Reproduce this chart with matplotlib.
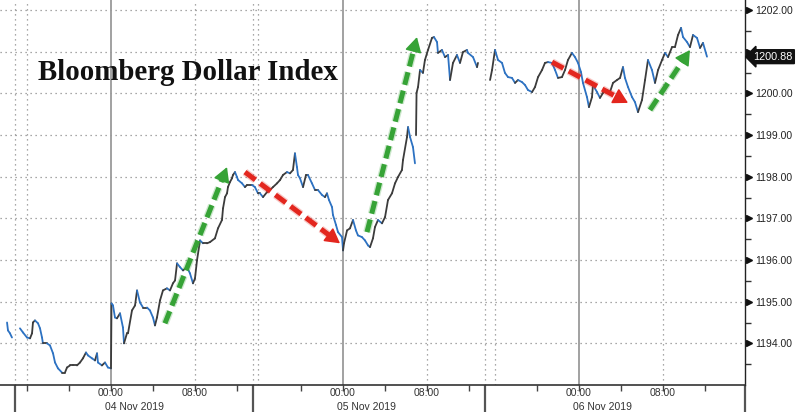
import numpy as np
import matplotlib
matplotlib.use("Agg")
import matplotlib.pyplot as plt
from matplotlib.collections import LineCollection
from matplotlib import transforms
import matplotlib.patheffects as pe

# ---------------- data ----------------
# x = session-compressed hours relative to 04 Nov 2019 00:00 (Bloomberg removes the daily break)
hours = [
    -9.90, -9.81, -9.62, -9.43, np.nan,
    -8.67, -8.38, -8.00, -7.71, -7.52, -7.43, -7.24, -6.95, -6.76, -6.57, -6.48, -6.10, -5.81,
    -5.52, -5.33, -5.05, -4.67, -4.38, -4.19, -3.90, -3.62, -3.24, -2.95, -2.67, -2.38, -2.19,
    -1.81, -1.52, -1.33, -1.24, -0.86, -0.57, -0.29, 0.00, 0.05, 0.19, 0.38, 0.57, 0.86, 1.14,
    1.24, 1.52, 1.62, 2.00, 2.29, 2.48, 2.76, 3.05, 3.43, 3.71, 4.00, 4.19, 4.38, 4.67, 4.95,
    5.33, 5.62, 5.90, 6.10, 6.29, 6.57, 6.86, 7.24, 7.52, 7.81, 8.00, 8.19, 8.48, 8.76, 9.14,
    9.43, 9.90, 10.19, 10.57, 10.67, 10.86, 11.05, 11.14, 11.33, 11.52, 11.62, 11.81, 12.00,
    12.10, 12.48, 12.76, 12.95, 13.43, 13.71, 14.00, 14.19, 14.48, 14.86, 15.14, 15.43, 15.81,
    16.10, 16.38, 16.76, 17.05, 17.33, 17.52, 17.71, 17.81, 18.00, 18.29, 18.57, 18.76, 19.14,
    19.43, 19.71, 20.10, 20.38, 20.57, 20.76, 21.05, 21.14, 21.43, 21.62, 22.00, 22.10, 22.19,
    22.48, 22.76, 23.05, 23.33, 23.52, 23.90, 24.19, 24.48, 24.67, 24.95, 25.14, 25.43, 25.81,
    26.10, 26.38, 26.76, 27.05, 27.33, 27.71, 27.81, 28.19, 28.29, 28.48, 28.76, 28.95, np.nan,
    29.05, 29.10, 29.24, 29.43, 29.71, 29.90, 30.19, 30.57, 30.76, 31.05, 31.14, 31.52, 31.81,
    32.10, 32.29, 32.57, 32.95, 33.24, 33.52, 33.90, 34.00, 34.48, 34.86, 34.95, np.nan,
    36.10, 36.29, 36.57, 36.86, 37.24, 37.52, 37.81, 38.19, 38.48, 38.76, 39.14, 39.43, 39.71,
    40.10, 40.38, 40.67, 41.05, 41.33, 41.62, 42.00, 42.29, 42.57, 42.95, 43.24, 43.52, 43.90,
    44.19, 44.48, 44.76, 44.95, 45.33, 45.52, 45.81, 45.90, 46.29, 46.57, 46.86, 47.24, 47.52,
    47.81, 48.19, 48.48, 48.76, 48.95, 49.24, 49.62, 49.90, 50.19, 50.57, 50.86, 51.14, 51.52,
    51.81, 52.10, 52.48, 52.76, 53.05, 53.43, 53.71, 54.00, 54.29, 54.48, 54.86, 55.14, 55.43,
    55.81, 56.10, 56.38, 56.76,
]
price = [
    1194.50, 1194.31, 1194.24, 1194.14, np.nan,
    1194.36, 1194.26, 1194.14, 1194.12, 1194.24, 1194.50, 1194.55, 1194.48, 1194.36, 1194.14,
    1194.00, 1194.00, 1193.95, 1193.76, 1193.54, 1193.40, 1193.30, 1193.30, 1193.42, 1193.47,
    1193.47, 1193.47, 1193.54, 1193.64, 1193.78, 1193.71, 1193.64, 1193.59, 1193.76, 1193.54,
    1193.47, 1193.54, 1193.42, 1193.40, 1194.96, 1194.91, 1194.62, 1194.60, 1194.72, 1194.38,
    1194.00, 1194.24, 1194.24, 1194.79, 1194.91, 1195.27, 1194.98, 1194.86, 1194.86, 1194.79,
    1194.62, 1194.43, 1194.62, 1195.03, 1195.27, 1195.32, 1195.27, 1195.44, 1195.51, 1195.92,
    1195.83, 1195.75, 1195.83, 1195.68, 1195.44, 1195.56, 1195.99, 1196.47, 1196.40, 1196.40,
    1196.43, 1196.52, 1196.76, 1196.96, 1197.24, 1197.51, 1197.60, 1197.75, 1197.87, 1197.96,
    1198.04, 1198.11, 1197.99, 1197.92, 1197.84, 1197.75, 1197.80, 1197.80, 1197.75, 1197.60,
    1197.60, 1197.51, 1197.63, 1197.68, 1197.75, 1197.84, 1197.92, 1198.04, 1198.11, 1198.08,
    1198.16, 1198.56, 1198.23, 1198.04, 1197.96, 1197.75, 1198.04, 1198.04, 1197.84, 1197.68,
    1197.68, 1197.56, 1197.51, 1197.60, 1197.44, 1197.27, 1197.08, 1196.84, 1196.67, 1196.55,
    1196.23, 1196.40, 1196.71, 1196.76, 1196.96, 1196.71, 1196.59, 1196.55, 1196.47, 1196.35,
    1196.31, 1196.52, 1196.79, 1196.96, 1196.88, 1197.03, 1197.44, 1197.60, 1197.84, 1197.99,
    1198.16, 1198.40, 1198.95, 1199.19, 1198.95, 1198.71, 1198.32, np.nan,
    1199.00, 1200.01, 1200.15, 1200.56, 1200.49, 1200.80, 1201.04, 1201.33, 1201.35, 1201.23,
    1200.97, 1201.04, 1200.87, 1200.92, 1200.32, 1200.73, 1200.92, 1200.73, 1200.99, 1201.04,
    1200.97, 1200.87, 1200.63, 1200.73, np.nan,
    1200.32, 1200.56, 1201.04, 1200.80, 1200.73, 1200.49, 1200.39, 1200.37, 1200.25, 1200.32,
    1200.27, 1200.20, 1200.08, 1200.03, 1200.15, 1200.39, 1200.56, 1200.73, 1200.75, 1200.73,
    1200.56, 1200.37, 1200.39, 1200.56, 1200.80, 1200.97, 1200.87, 1200.73, 1200.51, 1200.25,
    1199.91, 1199.67, 1199.91, 1200.20, 1200.03, 1199.89, 1200.01, 1200.08, 1200.03, 1200.25,
    1200.32, 1200.37, 1200.63, 1200.37, 1200.15, 1199.91, 1199.79, 1199.55, 1199.84, 1200.32,
    1200.80, 1200.56, 1200.25, 1200.56, 1200.80, 1200.97, 1200.87, 1201.11, 1201.11, 1201.40,
    1201.57, 1201.35, 1201.23, 1201.11, 1201.40, 1201.33, 1201.09, 1201.21, 1200.88,
]
last_value = 1200.88

day_starts = [0.0, 22.10, 44.57]
day_labels = ["04 Nov 2019", "05 Nov 2019", "06 Nov 2019"]
eight_am = [8.0, 30.10, 52.57]
minor_hours = [-8.0, -4.0, 4.0, 12.0, 18.10, 26.10, 34.10, 40.57, 48.57, 56.57]
session_breaks = [-9.10, 13.52, 35.62]
afternoon_grid = [-8.0, 14.0, 36.57]
y_ticks = [1194, 1195, 1196, 1197, 1198, 1199, 1200, 1201, 1202]

# trend arrows: (start hour, start price, end hour, end price, colour)
arrows = [
    (5.14, 1194.48, 11.05, 1198.23, "#36a336"),
    (12.76, 1198.11, 21.81, 1196.40, "#e3261e"),
    (24.38, 1196.67, 29.14, 1201.35, "#36a336"),
    (42.00, 1200.75, 49.24, 1199.77, "#e3261e"),
    (51.33, 1199.60, 55.14, 1201.04, "#36a336"),
]

# ---------------- figure ----------------
fig = plt.figure(figsize=(8.0, 4.16), dpi=100)
ax = fig.add_axes([0.0, 31 / 416, 745 / 800, 385 / 416])
ax.set_xlim(-10.57, 60.38)
ax.set_ylim(1193.0, 1202.24)
ax.set_facecolor("white")

for s in ["left", "top"]:
    ax.spines[s].set_visible(False)
ax.spines["right"].set_color("#222222")
ax.spines["right"].set_linewidth(1.0)
ax.spines["bottom"].set_color("#333333")
ax.spines["bottom"].set_linewidth(1.2)

dot = (0, (1, 3))
for yv in y_ticks:
    ax.axhline(yv, color="#8c8c8c", lw=0.9, ls=dot, zorder=0)
for xv in session_breaks + afternoon_grid + eight_am:
    ax.axvline(xv, color="#8c8c8c", lw=0.9, ls=dot, zorder=0)
for xv in day_starts:
    ax.axvline(xv, color="#9a9a9a", lw=1.3, zorder=0.5)

# ---------------- price line (up ticks dark, down ticks blue) ----------------
h = np.asarray(hours, dtype=float)
p = np.asarray(price, dtype=float)
segs, cols = [], []
for i in range(len(h) - 1):
    if np.isfinite(p[i]) and np.isfinite(p[i + 1]):
        segs.append([(h[i], p[i]), (h[i + 1], p[i + 1])])
        cols.append("#3c3c3c" if p[i + 1] >= p[i] else "#2d72c2")
lc = LineCollection(segs, colors=cols, linewidths=1.3, zorder=3, capstyle="round")
ax.add_collection(lc)

# ---------------- x axis ----------------
ax.set_xticks(day_starts + eight_am)
ax.set_xticklabels(["00:00"] * 3 + ["08:00"] * 3)
ax.set_xticks(minor_hours, minor=True)
ax.tick_params(axis="x", which="both", direction="out", length=4, width=1,
               color="#444444", labelsize=7.5, labelcolor="#333333", pad=-1.5)
for lab in ax.get_xticklabels():
    lab.set_fontfamily("Liberation Sans")
ax.vlines(session_breaks + [60.38], -27 / 385, 0, transform=ax.get_xaxis_transform(),
          color="#555555", lw=1.6, clip_on=False)
date_tr = transforms.offset_copy(ax.get_xaxis_transform(), fig=fig, x=-6, y=0, units="dots")
for xv, lbl in zip(day_starts, day_labels):
    ax.text(xv, -22 / 385, lbl, transform=date_tr, ha="left", va="center",
            fontsize=7.5, color="#333333", family="Liberation Sans")

# ---------------- y axis (right) ----------------
ax.yaxis.tick_right()
ax.set_yticks(y_ticks)
ax.set_yticklabels(["" if v == 1201 else f"{v:.2f}" for v in y_ticks])
ax.set_yticks(np.arange(1193.5, 1202.1, 1.0), minor=True)
ax.tick_params(axis="y", which="major", length=0, pad=7, labelsize=7.5, labelcolor="#222222")
ax.tick_params(axis="y", which="minor", length=4, width=1, color="#333333", direction="out")
for lab in ax.get_yticklabels():
    lab.set_fontfamily("Liberation Sans")
tri_tr = transforms.offset_copy(ax.get_yaxis_transform(), fig=fig, x=3.5, y=0, units="dots")
ax.plot([1.0] * len(y_ticks), y_ticks, transform=tri_tr, marker=">", ms=4.5,
        color="#111111", ls="none", clip_on=False)

box_tr = transforms.offset_copy(ax.get_yaxis_transform(), fig=fig, x=8, y=0, units="dots")
ax.text(1.0, last_value, f"{last_value:.2f}", transform=box_tr, ha="left", va="center",
        fontsize=7.8, color="white", family="Liberation Sans", zorder=10,
        bbox=dict(boxstyle="larrow,pad=0.18", fc="#111111", ec="#111111"), clip_on=False)

# ---------------- title ----------------
ax.text(38 / 745, (385 - 80) / 385, "Bloomberg Dollar Index", transform=ax.transAxes,
        ha="left", va="baseline", fontsize=20.8, fontweight="bold",
        family="Liberation Serif", color="#111111")

# ---------------- arrows ----------------
fig.canvas.draw()
for x0, y0, x1, y1, c in arrows:
    d0 = ax.transData.transform((x0, y0))
    d1 = ax.transData.transform((x1, y1))
    L = np.hypot(*(d1 - d0))
    f = max(0.0, 1 - 10 / L)
    xm, ym = x0 + (x1 - x0) * f, y0 + (y1 - y0) * f
    glow = [pe.withStroke(linewidth=5.5, foreground=c, alpha=0.25)]
    ax.plot([x0, xm], [y0, ym], color=c, lw=3.6, dashes=(2.6, 1.2),
            solid_capstyle="butt", dash_capstyle="butt", zorder=6, path_effects=glow)
    ax.annotate("", xy=(x1, y1), xytext=(x0 + (x1 - x0) * (f - 0.02), y0 + (y1 - y0) * (f - 0.02)),
                arrowprops=dict(arrowstyle="-|>,head_length=0.75,head_width=0.42",
                                color=c, lw=1.2, mutation_scale=12,
                                shrinkA=0, shrinkB=0), zorder=7)

fig.savefig("out.png", dpi=100, facecolor="white")
